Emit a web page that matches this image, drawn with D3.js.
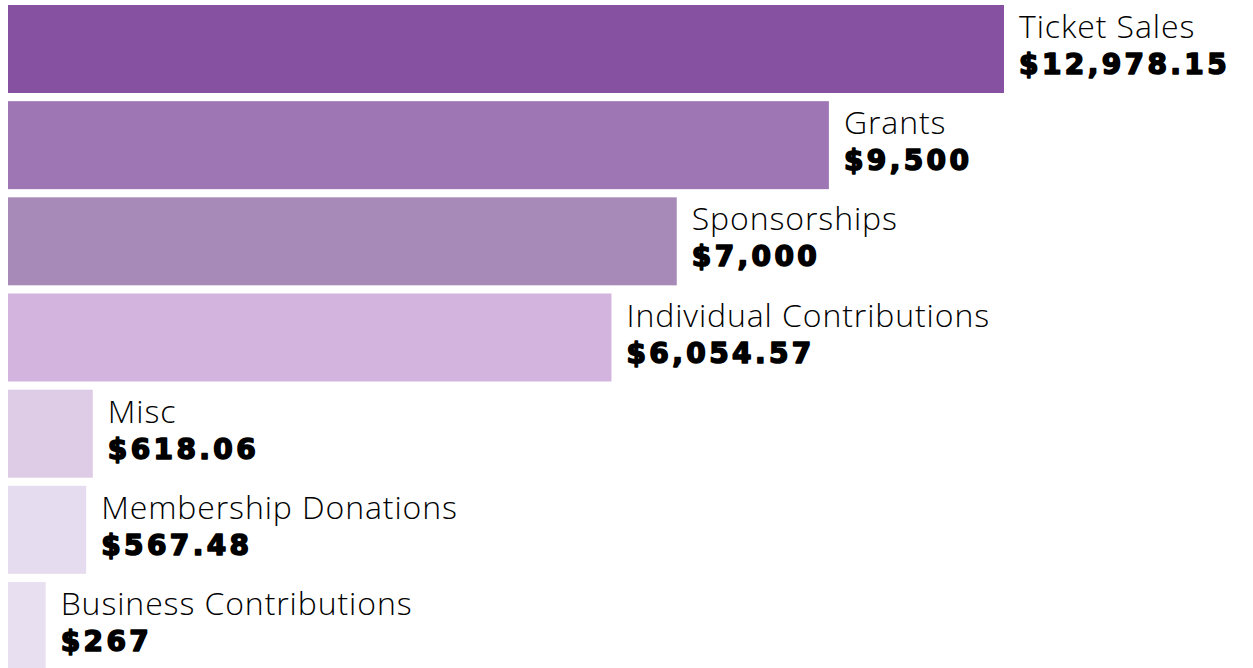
<!DOCTYPE html>
<html>
<head>
<meta charset="utf-8">
<script src="https://cdn.jsdelivr.net/npm/d3@7"></script>
<style>
  html, body { margin: 0; padding: 0; background: #ffffff; }
  svg { display: block; }
</style>
</head>
<body>
<svg id="chart" width="1253" height="668"></svg>
<script>
const categories = ["Ticket Sales", "Grants", "Sponsorships", "Individual Contributions", "Misc", "Membership Donations", "Business Contributions"];
const values = [12978.15, 9500, 7000, 6054.57, 618.06, 567.48, 267];
const valueLabels = ["$12,978.15", "$9,500", "$7,000", "$6,054.57", "$618.06", "$567.48", "$267"];
const colors = ["#8751A1", "#9E76B4", "#A78AB7", "#D2B4DE", "#DECBE5", "#E6DCEF", "#E8DFF0"];

const data = categories.map((c, i) => ({ name: c, value: values[i], label: valueLabels[i], color: colors[i] }));

const svg = d3.select("#chart");
const left = 8;

const x = d3.scaleSymlog().constant(6000).domain([0, d3.max(values)]).range([0, 996]);
const y = d3.scaleBand().domain(categories).range([5, 670]).paddingInner(0.085).paddingOuter(0);

const g = svg.append("g");

g.selectAll("rect").data(data).join("rect")
  .attr("x", left)
  .attr("y", d => y(d.name))
  .attr("width", d => x(d.value))
  .attr("height", y.bandwidth())
  .attr("fill", d => d.color);

const lab = g.selectAll("g.lab").data(data).join("g").attr("class", "lab")
  .attr("transform", d => `translate(${left + x(d.value) + 15},${y(d.name) + y.bandwidth() / 2})`);

lab.append("text")
  .attr("y", -11)
  .style("font-family", "'Open Sans', Lato, sans-serif")
  .style("font-weight", 300)
  .style("font-size", "32px")
  .style("letter-spacing", "0.9px")
  .attr("fill", "#000")
  .text(d => d.name);

lab.append("text")
  .attr("y", 25)
  .style("font-family", "'DejaVu Sans', sans-serif")
  .style("font-weight", 700)
  .style("font-size", "28px")
  .style("letter-spacing", "3.4px")
  .attr("fill", "#000")
  .attr("stroke", "#000")
  .attr("stroke-width", 1.6)
  .attr("stroke-linejoin", "round")
  .text(d => d.label);
</script>
</body>
</html>
